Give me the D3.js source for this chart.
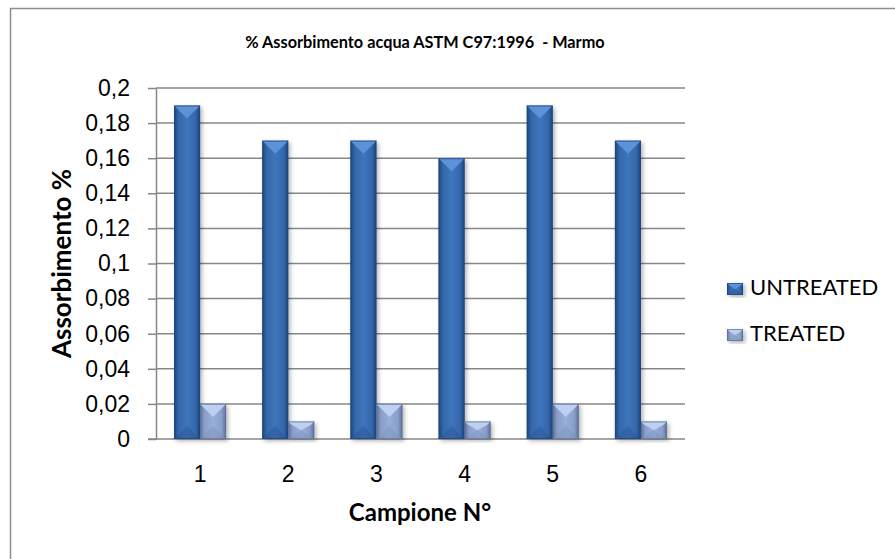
<!DOCTYPE html>
<html>
<head>
<meta charset="utf-8">
<script src="https://cdn.jsdelivr.net/npm/d3@7"></script>
<style>
    body { margin: 0; background: #fff; }
    svg { display: block; font-family: Lato, "Liberation Sans", sans-serif; }
    .grid line { stroke: #878787; stroke-width: 1.5; }
    .axis path, .axis line { stroke: #878787; stroke-width: 1.5; }
    .axis text { fill: #000; }
</style>
</head>
<body>
<svg></svg>
<script>
// values
var campioni = ["1", "2", "3", "4", "5", "6"];
var untreated = [0.19, 0.17, 0.17, 0.16, 0.19, 0.17];
var treated = [0.02, 0.01, 0.02, 0.01, 0.02, 0.01];
var seriesNames = ["UNTREATED", "TREATED"];
var yTicks = [0, 0.02, 0.04, 0.06, 0.08, 0.1, 0.12, 0.14, 0.16, 0.18, 0.2];

var svg = d3.select("svg").attr("width", 895).attr("height", 559),
    margin = {top: 88, left: 156},
    width = 529,
    height = 351;

// bevel looks: edge / body / top facet
var looks = [
    {id: "u", edge: "#1c457c", mid: "#3567ab", light: "#3f75bb", top: "#5c93d8", bottom: "#2a5795"},
    {id: "t", edge: "#5d7198", mid: "#8aa0cb", light: "#98afd8", top: "#bcd0ef", bottom: "#7d93bd"}
];

var defs = svg.append("defs");
looks.forEach(function (l) {
    var gr = defs.append("linearGradient").attr("id", "grad-" + l.id)
        .attr("x1", "0").attr("x2", "1").attr("y1", "0").attr("y2", "0");
    gr.append("stop").attr("offset", "0").attr("stop-color", l.edge);
    gr.append("stop").attr("offset", "0.18").attr("stop-color", l.mid);
    gr.append("stop").attr("offset", "0.5").attr("stop-color", l.light);
    gr.append("stop").attr("offset", "0.82").attr("stop-color", l.mid);
    gr.append("stop").attr("offset", "1").attr("stop-color", l.edge);
});
var sh = defs.append("filter").attr("id", "shadow")
    .attr("x", "-30%").attr("y", "-10%").attr("width", "160%").attr("height", "130%");
sh.append("feDropShadow").attr("dx", 2).attr("dy", 2).attr("stdDeviation", 2)
    .attr("flood-color", "#000").attr("flood-opacity", 0.3);

// outer chart frame (runs off the right and bottom edge)
svg.append("rect")
    .attr("x", 10.5).attr("y", 8.5).attr("width", 900).attr("height", 600)
    .attr("fill", "#fff").attr("stroke", "#8c8c8c").attr("stroke-width", 1.5);

var x = d3.scaleBand().domain(campioni).range([0, width]).paddingInner(0.41).paddingOuter(0.205),
    x1 = d3.scaleBand().domain(seriesNames).range([0, x.bandwidth()]),
    y = d3.scaleLinear().domain([0, 0.2]).range([height, 0]);

var fmt = function (d) { return String(d).replace(".", ","); };

var g = svg.append("g")
    .attr("transform", "translate(" + margin.left + "," + margin.top + ")");

g.append("g")
    .attr("class", "grid")
    .selectAll("line")
    .data(yTicks.slice(1))
    .enter().append("line")
    .attr("x1", 0).attr("x2", width)
    .attr("y1", function (d) { return y(d); })
    .attr("y2", function (d) { return y(d); });

var yAxis = g.append("g")
    .attr("class", "axis axis--y")
    .call(d3.axisLeft(y).tickValues(yTicks).tickFormat(fmt).tickSize(8).tickSizeOuter(0).tickPadding(18));
yAxis.selectAll("text").style("font-size", "23px");

var xAxis = g.append("g")
    .attr("class", "axis axis--x")
    .attr("transform", "translate(0," + height + ")")
    .call(d3.axisBottom(x).tickSize(0).tickPadding(27));
xAxis.select("path").attr("d", "M-8,0H" + width);
xAxis.selectAll("text").style("font-size", "23px");

var rows = campioni.map(function (c, i) {
    return {cat: c, vals: [untreated[i], treated[i]]};
});

function drawBar(sel, bx, by, bw, bh, l) {
    sel.append("rect")
        .attr("x", bx).attr("y", by).attr("width", bw).attr("height", bh)
        .attr("fill", "url(#grad-" + l.id + ")")
        .attr("filter", "url(#shadow)");
    var d = Math.min(bw / 2, bh / 2, 13);
    // top facet
    sel.append("path")
        .attr("d", "M" + bx + "," + by + "L" + (bx + bw) + "," + by + "L" + (bx + bw - 3) + "," + (by + 3)
            + "L" + (bx + bw / 2) + "," + (by + d) + "L" + (bx + 3) + "," + (by + 3) + "Z")
        .attr("fill", l.top);
    // bottom facet
    sel.append("path")
        .attr("d", "M" + bx + "," + (by + bh) + "L" + (bx + bw) + "," + (by + bh)
            + "L" + (bx + bw / 2) + "," + (by + bh - d) + "Z")
        .attr("fill", l.bottom).attr("opacity", 0.5);
    sel.append("rect")
        .attr("x", bx + 0.5).attr("y", by + 0.5).attr("width", bw - 1).attr("height", bh - 1)
        .attr("fill", "none").attr("stroke", l.edge).attr("stroke-width", 1).attr("opacity", 0.7);
}

var groups = g.selectAll(".campione")
    .data(rows)
    .enter().append("g")
    .attr("class", "campione")
    .attr("transform", function (d) { return "translate(" + x(d.cat) + ",0)"; });

groups.each(function (d) {
    var sel = d3.select(this);
    d.vals.forEach(function (v, j) {
        drawBar(sel.append("g"), x1(seriesNames[j]), y(v), x1.bandwidth(), height - y(v), looks[j]);
    });
});

// titles
svg.append("text")
    .attr("x", 425).attr("y", 48)
    .attr("text-anchor", "middle")
    .style("font-size", "16.3px").style("font-weight", "bold")
    .style("white-space", "pre")
    .text("% Assorbimento acqua ASTM C97:1996  - Marmo");

svg.append("text")
    .attr("transform", "translate(71," + (margin.top + height / 2) + ") rotate(-90)")
    .attr("text-anchor", "middle")
    .style("font-size", "26px").style("font-weight", "bold")
    .text("Assorbimento %");

svg.append("text")
    .attr("x", 420).attr("y", 521)
    .attr("text-anchor", "middle")
    .style("font-size", "24px").style("font-weight", "bold")
    .text("Campione N°");

// legend
var legend = svg.append("g").attr("transform", "translate(727,282)");
seriesNames.forEach(function (name, j) {
    var item = legend.append("g").attr("transform", "translate(0," + (j * 46) + ")");
    drawBar(item.append("g"), 0, 1, 16, 12, looks[j]);
    item.append("text")
        .attr("x", 23).attr("y", 13)
        .style("font-size", "22px")
        .text(name);
});
</script>
</body>
</html>
